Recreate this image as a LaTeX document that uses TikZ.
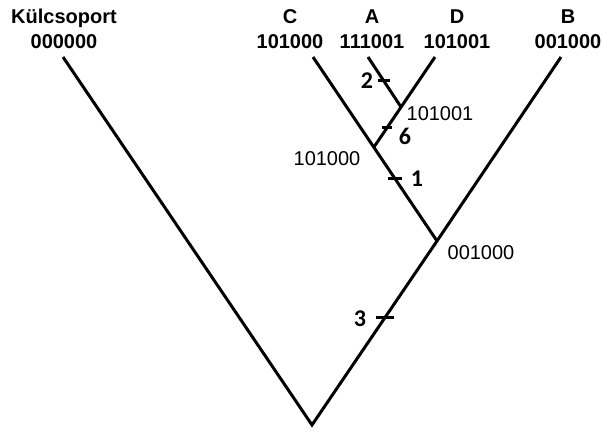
\documentclass[tikz,border=0pt]{standalone}
\usepackage{fontspec}
\setmainfont{Liberation Sans}
\newfontfamily\carl{Carlito}
\usetikzlibrary{calc}
\begin{document}
\begin{tikzpicture}[x=1pt,y=-1pt,
  branch/.style={line width=3pt},
  tickmark/.style={line width=3pt},
  taxon/.style={font=\fontsize{20}{24}\selectfont\bfseries, anchor=base, inner sep=0pt},
  topstate/.style={font=\fontsize{20}{24}\selectfont\bfseries, anchor=base, inner sep=0pt},
  state/.style={font=\fontsize{20}{24}\selectfont, anchor=base, inner sep=0pt},
  mut/.style={font=\carl\fontsize{24}{26}\selectfont\bfseries, anchor=base, inner sep=0pt}]
\useasboundingbox (0,0) rectangle (603,433);
% tree vertices
\coordinate (root) at (312,425);
\coordinate (J1) at (437,241);
\coordinate (J2) at (374,147);
\coordinate (J3) at (401,107);
\coordinate (outtip) at (63,57);
\coordinate (Ctip) at (313,57);
\coordinate (Atip) at (368,57);
\coordinate (Dtip) at (435,57);
\coordinate (Btip) at (561,57);
% branches
\draw[branch] (outtip) -- (root) -- (J1) -- (Btip);
\draw[branch] (J1) -- (Ctip);
\draw[branch] (J2) -- (Dtip);
\draw[branch] (J3) -- (Atip);
% mutation ticks
\coordinate (t2) at ($(J3)!0.52!(Atip)$);
\coordinate (t6) at ($(J2)!0.475!(J3)$);
\coordinate (t1) at ($(J1)!0.67!(J2)$);
\coordinate (t3) at ($(root)!0.586!(J1)$);
\draw[tickmark] ([xshift=-6pt]t2) -- ([xshift=6pt]t2);
\draw[tickmark] ([xshift=-5pt]t6) -- ([xshift=5pt]t6);
\draw[tickmark] ([xshift=-7pt]t1) -- ([xshift=7pt]t1);
\draw[tickmark] ([xshift=-9pt]t3) -- ([xshift=9pt]t3);
\node[mut] (m2) at (367,89) {2};
\node[mut] (m6) at (405,145) {6};
\node[mut] (m1) at (417,187) {1};
\node[mut] (m3) at (360,326) {3};
% taxa
\node[taxon] (nout) at (64,24) {Külcsoport};
\node[topstate] (sout) at (64,49) {000000};
\node[taxon] (nC) at (290,24) {C};
\node[topstate] (sC) at (290,49) {101000};
\node[taxon] (nA) at (372,24) {A};
\node[topstate] (sA) at (372,49) {111001};
\node[taxon] (nD) at (457,24) {D};
\node[topstate] (sD) at (457,49) {101001};
\node[taxon] (nB) at (568,24) {B};
\node[topstate] (sB) at (568,49) {001000};
% internal states
\node[state] (s3) at (440,121) {101001};
\node[state] (s2) at (327,166) {101000};
\node[state] (s1) at (481,259) {001000};
\end{tikzpicture}
\end{document}
